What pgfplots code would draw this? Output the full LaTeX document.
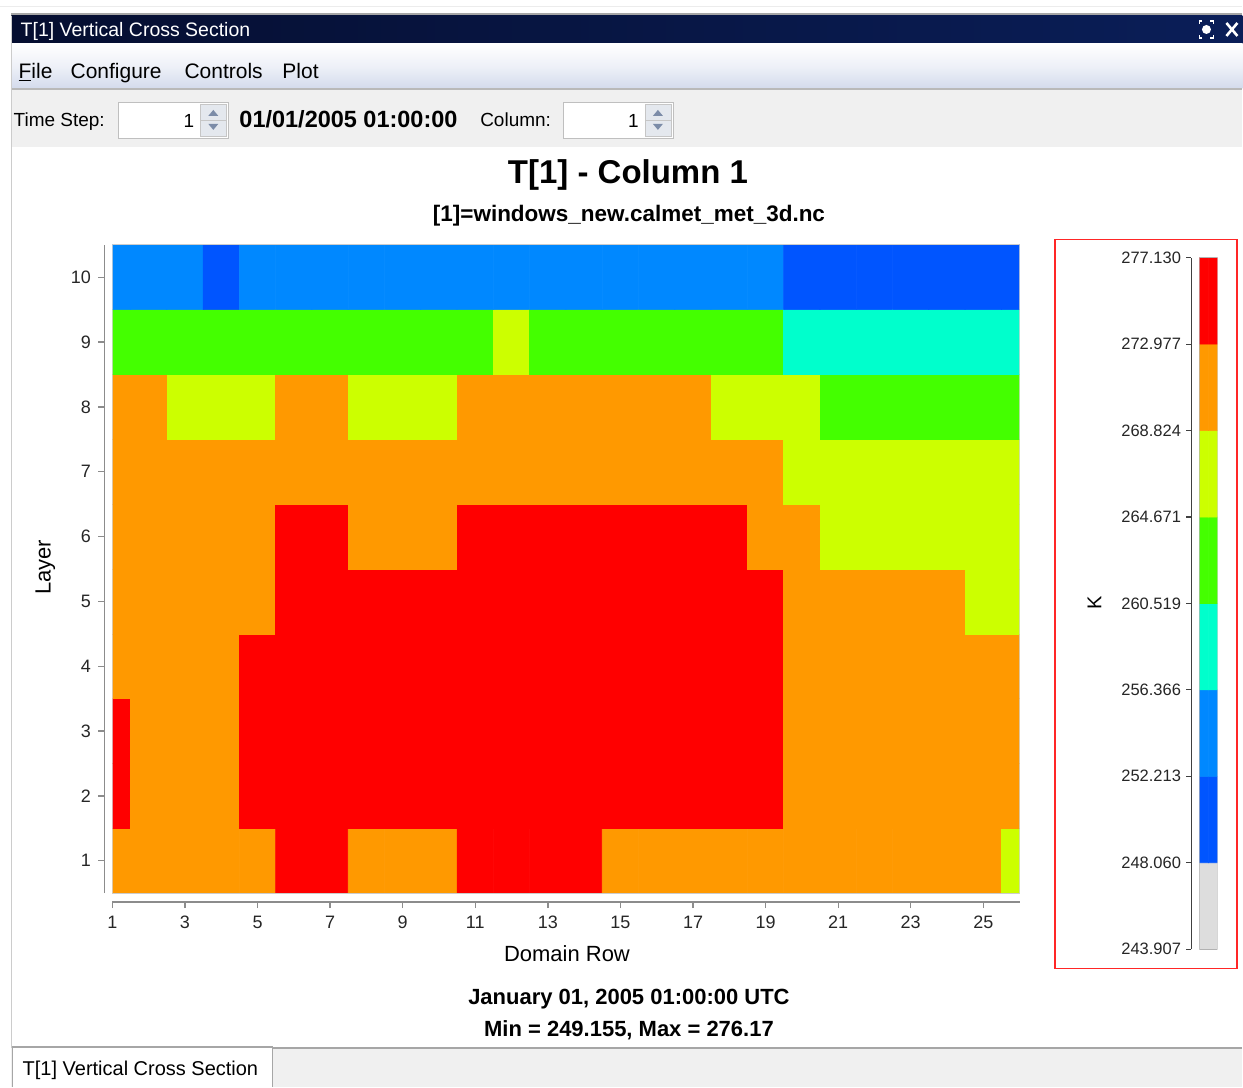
\documentclass[border=0pt]{standalone}
\usepackage{fontspec}
\setmainfont{Liberation Sans}
\usepackage{pgfplots}
\pgfplotsset{compat=1.18}
\newcommand{\fs}[1]{\fontsize{#1}{#1}\selectfont}
\definecolor{tbar1}{HTML}{050E30}
\definecolor{tbar2}{HTML}{0A1E58}
\definecolor{menub}{HTML}{D3DAEC}
\definecolor{panel}{HTML}{F0F0F0}
\definecolor{axgray}{HTML}{8C8C8C}
\definecolor{spin}{HTML}{E4E8EE}
\definecolor{spinarrow}{HTML}{7C8CA8}
\begin{document}
\begin{tikzpicture}
\begin{scope}[x=1pt,y=-1pt]
\fill[white] (0,0) rectangle (1243,1088);
\draw[gray!15, line width=1] (0,7) -- (1243,7);
\fill[gray!70] (11,13) rectangle (1243,16);
\shade[left color=tbar1, right color=tbar2] (11,16) rectangle (1243,44);
\node[anchor=base west, text=white, inner sep=0] at (20,37) {\fs{19.5}T[1] Vertical Cross Section};
% title bar icons
\draw[white, line width=1.6] (1200,24) -- (1200,21) -- (1203,21) (1211,21) -- (1214,21) -- (1214,24) (1214,35) -- (1214,38) -- (1211,38) (1203,38) -- (1200,38) -- (1200,35);
\fill[white] (1207,29.5) circle (4.5);
\draw[white, line width=2.6] (1227,23) -- (1238,36) (1238,23) -- (1227,36);
% menu bar
\shade[top color=white, bottom color=menub, middle color=white!60!menub] (11,44) rectangle (1243,89);
\fill[gray!55] (11,88) rectangle (1243,90);
\node[anchor=base west, inner sep=0] at (18,79) {\fs{21}\underline{F}ile};
\node[anchor=base west, inner sep=0] at (70,79) {\fs{21}Configure};
\node[anchor=base west, inner sep=0] at (184,79) {\fs{21}Controls};
\node[anchor=base west, inner sep=0] at (282,79) {\fs{21}Plot};
% toolbar
\fill[panel] (11,90) rectangle (1243,147);
\node[anchor=base west, inner sep=0] at (13,127) {\fs{19}Time Step:};
\fill[white] (118,102) rectangle (228,138);
\draw[gray!50] (118,102) rectangle (228,138);
\node[anchor=base east, inner sep=0] at (194,128) {\fs{19}1};
\fill[spin] (200,104) rectangle (226,136);
\draw[gray!45] (200,104) rectangle (226,136) (200,120) -- (226,120);
\fill[spinarrow] (208,116) -- (218,116) -- (213,110) -- cycle;
\fill[spinarrow] (208,124) -- (218,124) -- (213,130) -- cycle;
\node[anchor=base west, inner sep=0] at (239,128) {\fs{23.5}\bfseries 01/01/2005 01:00:00};
\node[anchor=base west, inner sep=0] at (480,127) {\fs{19}Column:};
\fill[white] (563,102) rectangle (673,138);
\draw[gray!50] (563,102) rectangle (673,138);
\node[anchor=base east, inner sep=0] at (639,128) {\fs{19}1};
\fill[spin] (645,104) rectangle (671,136);
\draw[gray!45] (645,104) rectangle (671,136) (645,120) -- (671,120);
\fill[spinarrow] (653,116) -- (663,116) -- (658,110) -- cycle;
\fill[spinarrow] (653,124) -- (663,124) -- (658,130) -- cycle;
% left border
\draw[gray!40] (11,16) -- (11,1088);
% titles
\node[anchor=base, inner sep=0] at (628,184) {\fs{33}\bfseries T[1] - Column 1};
\node[anchor=base, inner sep=0] at (629,222) {\fs{22.5}\bfseries [1]=windows\_new.calmet\_met\_3d.nc};
\node[anchor=base, inner sep=0] at (567,962) {\fs{22}Domain Row};
\node[rotate=90, inner sep=0] at (45,568) {\fs{22}Layer};
\node[anchor=base, inner sep=0] at (629,1005) {\fs{22}\bfseries January 01, 2005 01:00:00 UTC};
\node[anchor=base, inner sep=0] at (629,1037) {\fs{22}\bfseries Min = 249.155, Max = 276.17};
% colorbar box
\draw[red!85, line width=1.5] (1055.5,239.5) rectangle (1237.5,969.5);
\node[rotate=90, inner sep=0] at (1095,603) {\fs{20}K};
% bottom tabs
\fill[panel] (11,1049) rectangle (1243,1088);
\draw[gray!70, line width=1.2] (272,1049) -- (1243,1049);
\fill[white] (12,1048) rectangle (272,1088);
\draw[gray!70, line width=1.2] (12,1088) -- (12,1048) -- (272,1048) -- (272,1088);
\node[anchor=base west, inner sep=0] at (22,1076) {\fs{20}T[1] Vertical Cross Section};
\end{scope}

\begin{axis}[
  at={(112pt,-894pt)}, anchor=south west,
  width=908pt, height=649pt, scale only axis,
  xmin=1, xmax=26, ymin=0.5, ymax=10.5,
  axis lines=left,
  axis x line shift=9pt, axis y line shift=8pt,
  axis line style={-, draw=axgray, line width=1.6pt},
  tick align=outside, major tick length=6pt,
  tick style={draw=axgray, line width=1.3pt},
  xtick={1,3,...,25}, ytick={1,...,10},
  /pgf/number format/assume math mode=true,
  ticklabel style={font=\fs{18}, text=black!85},
  xticklabel style={yshift=-4pt},
  yticklabel style={xshift=-4pt},
  colormap={vcs}{rgb255=(221,221,221) rgb255=(0,85,255) rgb255=(0,136,255) rgb255=(0,255,204) rgb255=(68,255,0) rgb255=(204,255,0) rgb255=(255,153,0) rgb255=(255,0,0)},
  colormap access=direct,
]
\addplot[matrix plot*, mesh/cols=26, point meta=explicit, draw=mapped color, line width=0.6pt] table[row sep=\\, x index=0, y index=1, meta index=2] {
1 1 6\\2 1 6\\3 1 6\\4 1 6\\5 1 6\\6 1 7\\7 1 7\\8 1 6\\9 1 6\\10 1 6\\11 1 7\\12 1 7\\13 1 7\\14 1 7\\15 1 6\\16 1 6\\17 1 6\\18 1 6\\19 1 6\\20 1 6\\21 1 6\\22 1 6\\23 1 6\\24 1 6\\25 1 6\\26 1 5\\
1 2 7\\2 2 6\\3 2 6\\4 2 6\\5 2 7\\6 2 7\\7 2 7\\8 2 7\\9 2 7\\10 2 7\\11 2 7\\12 2 7\\13 2 7\\14 2 7\\15 2 7\\16 2 7\\17 2 7\\18 2 7\\19 2 7\\20 2 6\\21 2 6\\22 2 6\\23 2 6\\24 2 6\\25 2 6\\26 2 6\\
1 3 7\\2 3 6\\3 3 6\\4 3 6\\5 3 7\\6 3 7\\7 3 7\\8 3 7\\9 3 7\\10 3 7\\11 3 7\\12 3 7\\13 3 7\\14 3 7\\15 3 7\\16 3 7\\17 3 7\\18 3 7\\19 3 7\\20 3 6\\21 3 6\\22 3 6\\23 3 6\\24 3 6\\25 3 6\\26 3 6\\
1 4 6\\2 4 6\\3 4 6\\4 4 6\\5 4 7\\6 4 7\\7 4 7\\8 4 7\\9 4 7\\10 4 7\\11 4 7\\12 4 7\\13 4 7\\14 4 7\\15 4 7\\16 4 7\\17 4 7\\18 4 7\\19 4 7\\20 4 6\\21 4 6\\22 4 6\\23 4 6\\24 4 6\\25 4 6\\26 4 6\\
1 5 6\\2 5 6\\3 5 6\\4 5 6\\5 5 6\\6 5 7\\7 5 7\\8 5 7\\9 5 7\\10 5 7\\11 5 7\\12 5 7\\13 5 7\\14 5 7\\15 5 7\\16 5 7\\17 5 7\\18 5 7\\19 5 7\\20 5 6\\21 5 6\\22 5 6\\23 5 6\\24 5 6\\25 5 5\\26 5 5\\
1 6 6\\2 6 6\\3 6 6\\4 6 6\\5 6 6\\6 6 7\\7 6 7\\8 6 6\\9 6 6\\10 6 6\\11 6 7\\12 6 7\\13 6 7\\14 6 7\\15 6 7\\16 6 7\\17 6 7\\18 6 7\\19 6 6\\20 6 6\\21 6 5\\22 6 5\\23 6 5\\24 6 5\\25 6 5\\26 6 5\\
1 7 6\\2 7 6\\3 7 6\\4 7 6\\5 7 6\\6 7 6\\7 7 6\\8 7 6\\9 7 6\\10 7 6\\11 7 6\\12 7 6\\13 7 6\\14 7 6\\15 7 6\\16 7 6\\17 7 6\\18 7 6\\19 7 6\\20 7 5\\21 7 5\\22 7 5\\23 7 5\\24 7 5\\25 7 5\\26 7 5\\
1 8 6\\2 8 6\\3 8 5\\4 8 5\\5 8 5\\6 8 6\\7 8 6\\8 8 5\\9 8 5\\10 8 5\\11 8 6\\12 8 6\\13 8 6\\14 8 6\\15 8 6\\16 8 6\\17 8 6\\18 8 5\\19 8 5\\20 8 5\\21 8 4\\22 8 4\\23 8 4\\24 8 4\\25 8 4\\26 8 4\\
1 9 4\\2 9 4\\3 9 4\\4 9 4\\5 9 4\\6 9 4\\7 9 4\\8 9 4\\9 9 4\\10 9 4\\11 9 4\\12 9 5\\13 9 4\\14 9 4\\15 9 4\\16 9 4\\17 9 4\\18 9 4\\19 9 4\\20 9 3\\21 9 3\\22 9 3\\23 9 3\\24 9 3\\25 9 3\\26 9 3\\
1 10 2\\2 10 2\\3 10 2\\4 10 1\\5 10 2\\6 10 2\\7 10 2\\8 10 2\\9 10 2\\10 10 2\\11 10 2\\12 10 2\\13 10 2\\14 10 2\\15 10 2\\16 10 2\\17 10 2\\18 10 2\\19 10 2\\20 10 1\\21 10 1\\22 10 1\\23 10 1\\24 10 1\\25 10 1\\26 10 1\\
};
\draw[gray!40, line width=0.8pt] (rel axis cs:0,0) rectangle (rel axis cs:1,1);
\end{axis}

\begin{axis}[
  at={(1200pt,-950pt)}, anchor=south west,
  width=18pt, height=692pt, scale only axis,
  xmin=0, xmax=1, ymin=243.907, ymax=277.130,
  axis x line=none, axis y line=left,
  axis y line shift=8pt,
  axis line style={-, draw=black!75, line width=1.2pt},
  tick align=outside, major tick length=5pt,
  tick style={draw=black!75, line width=1.2pt},
  xtick=\empty,
  ytick={243.907,248.060,252.213,256.366,260.519,264.671,268.824,272.977,277.130},
  yticklabels={243.907,248.060,252.213,256.366,260.519,264.671,268.824,272.977,277.130},
  yticklabel style={font=\fs{16.5}, text=black!85, xshift=-2pt},
  colormap={vcs}{rgb255=(221,221,221) rgb255=(0,85,255) rgb255=(0,136,255) rgb255=(0,255,204) rgb255=(68,255,0) rgb255=(204,255,0) rgb255=(255,153,0) rgb255=(255,0,0)},
  colormap access=direct,
]
\addplot[matrix plot*, mesh/cols=2, point meta=explicit, draw=mapped color, line width=0.6pt] table[row sep=\\, x index=0, y index=1, meta index=2] {
0.25 245.9835 0\\0.75 245.9835 0\\
0.25 250.1365 1\\0.75 250.1365 1\\
0.25 254.2895 2\\0.75 254.2895 2\\
0.25 258.4425 3\\0.75 258.4425 3\\
0.25 262.5955 4\\0.75 262.5955 4\\
0.25 266.7485 5\\0.75 266.7485 5\\
0.25 270.9015 6\\0.75 270.9015 6\\
0.25 275.0545 7\\0.75 275.0545 7\\
};
\draw[gray!60, line width=1pt] (rel axis cs:0,0) rectangle (rel axis cs:1,1);
\end{axis}
\end{tikzpicture}
\end{document}
